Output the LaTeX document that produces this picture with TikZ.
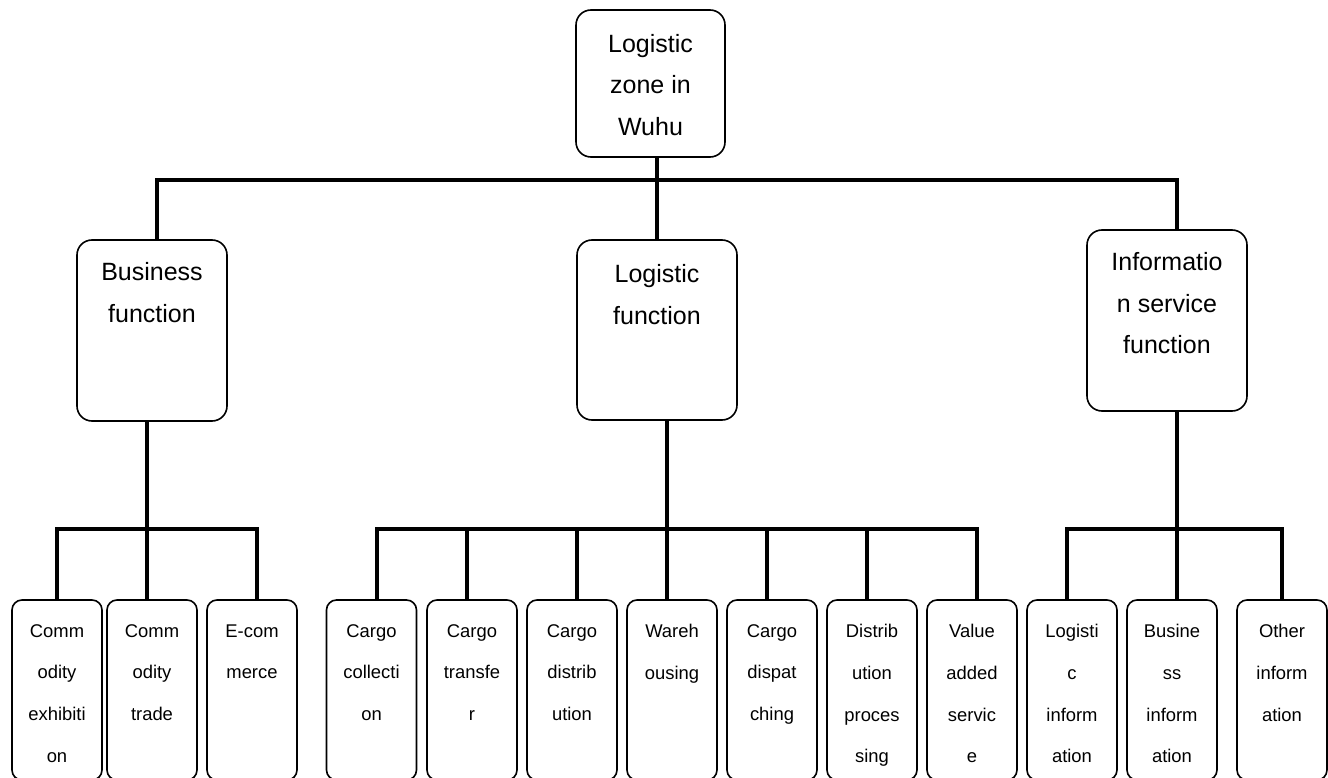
\documentclass[tikz,border=0pt]{standalone}
\usepackage{fontspec}
\setmainfont{Liberation Sans}
\begin{document}
\begin{tikzpicture}[x=1pt,y=-1pt,
  bigbox/.style={draw, line width=1.6pt, rounded corners=15pt, inner sep=0pt, fill=white},
  smallbox/.style={draw, line width=1.6pt, rounded corners=10pt, inner sep=0pt, fill=white,
    minimum width=90pt, minimum height=180pt},
  bigtxt/.style={anchor=north, inner sep=0pt, align=center, font=\fontsize{25}{41.5}\selectfont},
  smalltxt/.style={anchor=north, inner sep=0pt, align=center, font=\fontsize{18.4}{41.7}\selectfont},
  conn/.style={line width=4.8pt, line join=miter}]
\useasboundingbox (0,0) rectangle (1328,778);

% level 0
\node[bigbox, minimum width=149pt, minimum height=147pt] (top) at (650.5,83.5) {};
\node[bigtxt] (topt) at ([yshift=-24.5pt]top.north) {Logistic\\zone in\\Wuhu};

% level 1
\node[bigbox, minimum width=150pt, minimum height=181pt] (bus) at (152,330.5) {};
\node[bigtxt] (bust) at ([yshift=-23pt]bus.north) {Business\\function};
\node[bigbox, minimum width=160pt, minimum height=180pt] (log) at (657,330) {};
\node[bigtxt] (logt) at ([yshift=-25pt]log.north) {Logistic\\function};
\node[bigbox, minimum width=160pt, minimum height=181pt] (inf) at (1167,320.5) {};
\node[bigtxt] (inft) at ([yshift=-23pt]inf.north) {Informatio\\n service\\function};

% level 2
\foreach \n/\x/\t in {
  b1/57/{Comm\\odity\\exhibiti\\on},
  b2/152/{Comm\\odity\\trade},
  b3/252/{E-com\\merce},
  b4/371.5/{Cargo\\collecti\\on},
  b5/472/{Cargo\\transfe\\r},
  b6/572/{Cargo\\distrib\\ution},
  b7/672/{Wareh\\ousing},
  b8/772/{Cargo\\dispat\\ching},
  b9/872/{Distrib\\ution\\proces\\sing},
  b10/972/{Value\\added\\servic\\e},
  b11/1072/{Logisti\\c\\inform\\ation},
  b12/1172/{Busine\\ss\\inform\\ation},
  b13/1282/{Other\\inform\\ation}}{
  \node[smallbox] (\n) at (\x,690) {};
  \node[smalltxt] (\n t) at ([yshift=-25pt]\n.north) {\t};
}

\coordinate (bar0) at (0,180);
\coordinate (bar1) at (0,529);

% connectors level 0 -> 1
\draw[conn] ([xshift=6.5pt]top.south) -- (log.north);
\draw[conn] ([xshift=5pt]bus.north) -- ([xshift=5pt]bus.north |- bar0) -- ([xshift=10pt]inf.north |- bar0) -- ([xshift=10pt]inf.north);

% business group
\draw[conn] ([xshift=-5pt]bus.south) -- ([xshift=-5pt]b2.north);
\draw[conn] (b1.north) |- ([xshift=5pt]b3.north |- bar1) -- ([xshift=5pt]b3.north);

% logistic group
\draw[conn] ([xshift=10pt]log.south) -- ([xshift=10pt]log.south |- bar1);
\draw[conn] ([xshift=5.5pt]b4.north) |- ([xshift=5pt]b10.north |- bar1) -- ([xshift=5pt]b10.north);
\foreach \n/\s in {b5/-5pt, b6/5pt, b7/-5pt, b8/-5pt, b9/-5pt}{
  \draw[conn] ([xshift=\s]\n.north) -- ([xshift=\s]\n.north |- bar1);
}

% information group
\draw[conn] ([xshift=10pt]inf.south) -- ([xshift=5pt]b12.north |- bar1) -- ([xshift=5pt]b12.north);
\draw[conn] ([xshift=-5pt]b11.north) |- (b13.north |- bar1) -- (b13.north);
\end{tikzpicture}
\end{document}
